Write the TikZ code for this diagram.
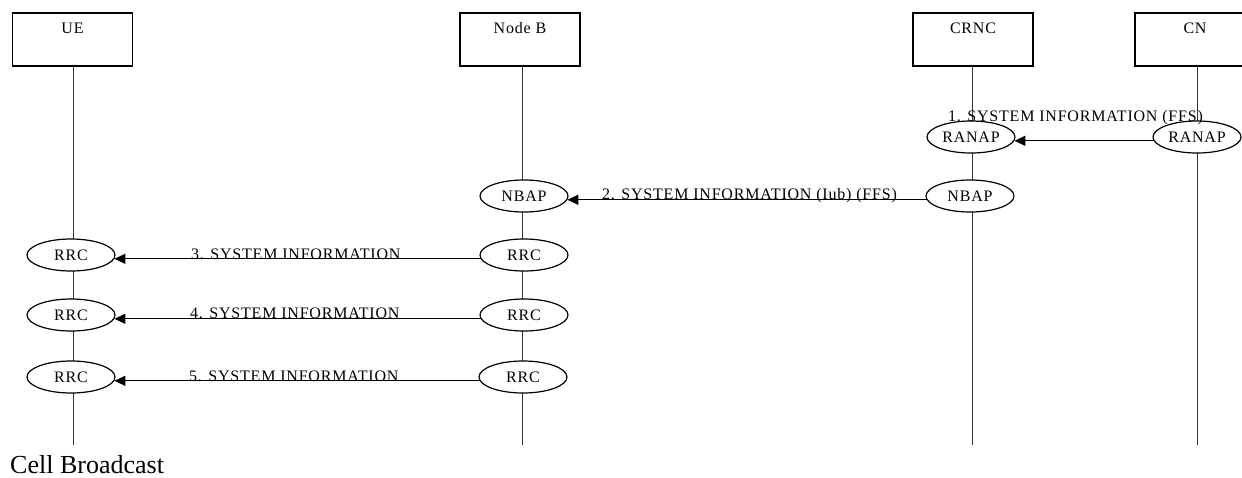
\documentclass[tikz,border=0pt]{standalone}
\usepackage{fontspec}
\setmainfont{Liberation Serif}
\newfontfamily\lbl[LetterSpace=5]{Liberation Serif}
\usetikzlibrary{shapes.geometric,arrows.meta}
\begin{document}
\begin{tikzpicture}[x=1pt,y=-1pt,
  small/.style={font=\lbl\fontsize{16}{18}\selectfont},
  box/.style={small,draw,line width=1.3pt,rectangle,minimum width=120pt,inner sep=0pt,text height=20pt,text depth=33pt},
  ent/.style={small,draw,line width=1.2pt,ellipse,fill=white,minimum width=88pt,minimum height=32pt,inner sep=0pt},
  life/.style={line width=1pt,draw=black!80},
  msg/.style={line width=1.2pt,-{Triangle[length=11pt,width=10pt]}},
  txt/.style={small,inner sep=0pt,anchor=base west}]
\useasboundingbox (0,0) rectangle (1242,477);
\clip (0,0) rectangle (1242,477);
% entity boxes
\node[box] (ue) at (72.5,39.5) {UE};
\node[box] (nb) at (520,39.5) {Node B};
\node[box] (crnc) at (973,39.5) {CRNC};
\node[box] (cn) at (1195,39.5) {CN};
% lifeline ends
\coordinate (ueEnd) at (73,445);
\coordinate (nbEnd) at (522,445);
\coordinate (crncEnd) at (972,445);
\coordinate (cnEnd) at (1197,445);
\draw[life] (ue.south -| ueEnd) -- (ueEnd);
\draw[life] (nb.south -| nbEnd) -- (nbEnd);
\draw[life] (crnc.south -| crncEnd) -- (crncEnd);
\draw[life] (cn.south -| cnEnd) -- (cnEnd);
% protocol ellipses
\node[ent] (ranapR) at (971,137) {RANAP};
\node[ent] (ranapC) at (1197,137) {RANAP};
\node[ent] (nbapN) at (524,196) {NBAP};
\node[ent] (nbapR) at (970,196) {NBAP};
\node[ent] (rrcU1) at (71,255) {RRC};
\node[ent] (rrcU2) at (71,315) {RRC};
\node[ent] (rrcU3) at (71,377) {RRC};
\node[ent] (rrcN1) at (524,255) {RRC};
\node[ent] (rrcN2) at (524,315) {RRC};
\node[ent] (rrcN3) at (523,377) {RRC};
% messages
\draw[msg] (ranapC.185) -- (ranapR.355);
\draw[msg] (nbapR.185) -- (nbapN.355);
\draw[msg] (rrcN1.185) -- (rrcU1.355);
\draw[msg] (rrcN2.185) -- (rrcU2.355);
\draw[msg] (rrcN3.185) -- (rrcU3.355);
% labels
\node[txt] (l1) at (948,121) {1. SYSTEM INFORMATION (FFS)};
\node[txt] (l2) at (602,199) {2. SYSTEM INFORMATION (Iub) (FFS)};
\node[txt] (l3) at (191,259.5) {3. SYSTEM INFORMATION};
\node[txt] (l4) at (190,318.5) {4. SYSTEM INFORMATION};
\node[txt] (l5) at (189,381) {5. SYSTEM INFORMATION};
\node[inner sep=0pt,anchor=base west,font=\fontsize{26}{30}\selectfont] (title) at (10,473) {Cell Broadcast};
\end{tikzpicture}
\end{document}
